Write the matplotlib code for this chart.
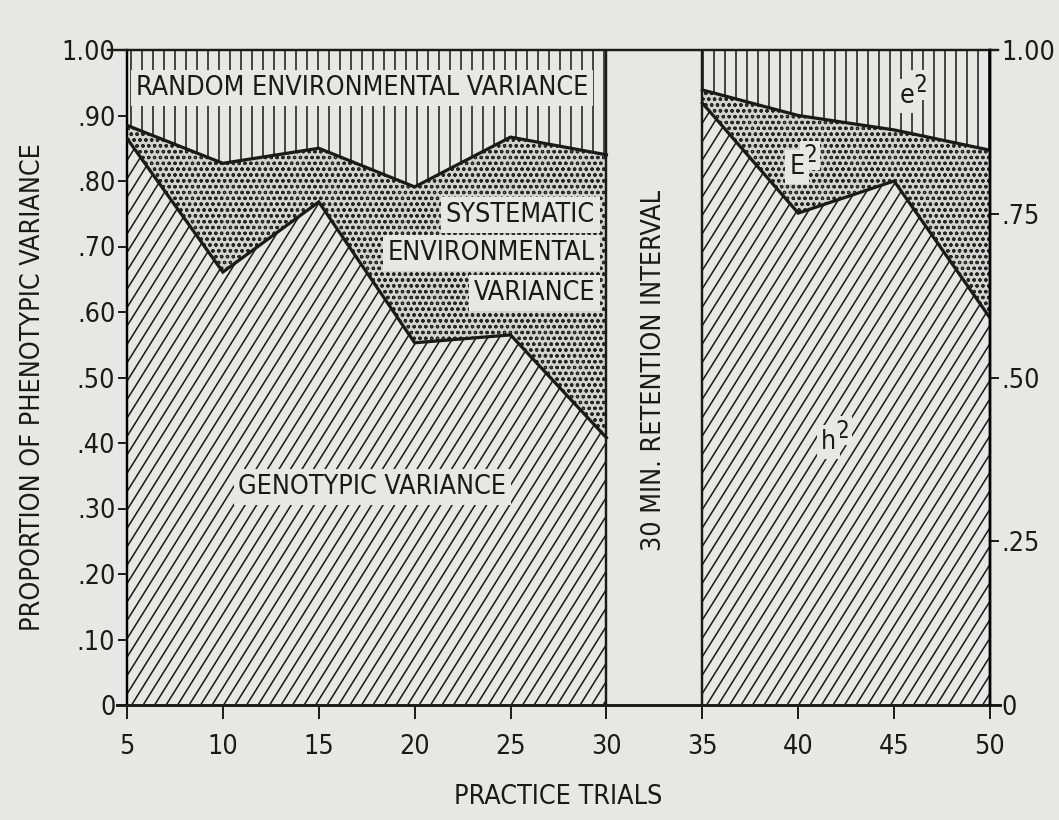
import matplotlib
matplotlib.use('Agg')
import matplotlib.pyplot as plt
from matplotlib.collections import LineCollection
import numpy as np

plt.rcParams['font.family'] = ['DejaVu Sans']
plt.rcParams['font.stretch'] = 'condensed'
plt.rcParams['hatch.linewidth'] = 1.2

# Data
trials_a = [5, 10, 15, 20, 25, 30]
h2_a = [0.865, 0.661, 0.768, 0.553, 0.565, 0.408]
upper_a = [0.885, 0.827, 0.850, 0.791, 0.867, 0.840]

trials_b = [35, 40, 45, 50]
h2_b = [0.919, 0.751, 0.800, 0.591]
upper_b = [0.939, 0.900, 0.878, 0.847]

x_ticks = [5, 10, 15, 20, 25, 30, 35, 40, 45, 50]
left_ticks = [0, .1, .2, .3, .4, .5, .6, .7, .8, .9, 1.0]
left_labels = ['0', '.10', '.20', '.30', '.40', '.50', '.60', '.70', '.80', '.90', '1.00']
right_ticks = [0, .25, .5, .75, 1.0]
right_labels = ['0', '.25', '.50', '.75', '1.00']

bg = '#e7e7e5'
ink = '#1a1a1a'
DPI = 70
W, H = 1059, 820
ax_w, ax_h = 863, 655
fig = plt.figure(figsize=(W / DPI, H / DPI), dpi=DPI, facecolor=bg)
ax = fig.add_axes([127 / W, 1 - 705 / H, ax_w / W, ax_h / H])
ax.set_facecolor(bg)
ax.set_xlim(5, 50)
ax.set_ylim(0, 1)

# hatch line sets (screen-like spacing, in data units)
px_x = ax_w / 45.0
diag_run = 1.0 / (1.6 * px_x / ax_h)      # x distance covered by one diagonal from y=0 to y=1
diag_step = 11.5 / px_x
vert_step = 11.0 / px_x
diag_segs = [[(c, 0), (c + diag_run, 1)] for c in np.arange(5 - diag_run, 50, diag_step)]
vert_segs = [[(c, 0), (c, 1)] for c in np.arange(5.2, 50, vert_step)]


def clipped_lines(poly, segs):
    lc = LineCollection(segs, colors=ink, linewidths=1.6)
    ax.add_collection(lc)
    lc.set_clip_path(poly.get_paths()[0], ax.transData)


for xs, h2, up in [(trials_a, h2_a, upper_a), (trials_b, h2_b, upper_b)]:
    p_gen = ax.fill_between(xs, 0, h2, facecolor=bg, linewidth=0)
    clipped_lines(p_gen, diag_segs)
    p_rand = ax.fill_between(xs, up, 1, facecolor=bg, linewidth=0)
    clipped_lines(p_rand, vert_segs)
    ax.fill_between(xs, h2, up, facecolor='#d2d2d0', edgecolor='#262626', hatch='oo', linewidth=0)
    ax.plot(xs, h2, color=ink, lw=3.3, solid_joinstyle='miter', zorder=4)
    ax.plot(xs, up, color=ink, lw=3.3, solid_joinstyle='miter', zorder=4)

# panel borders
for xv in [30, 35]:
    ax.plot([xv, xv], [0, 1], color=ink, lw=2.5, zorder=4)
ax.plot([4.0, 50.4], [1, 1], color=ink, lw=2.5, clip_on=False, zorder=4)
ax.plot([4.5, 50.5], [0, 0], color=ink, lw=3, clip_on=False, zorder=4)

for s in ['top', 'bottom']:
    ax.spines[s].set_visible(False)
ax.spines['left'].set_linewidth(2.5)
ax.spines['right'].set_linewidth(2.5)

fs = 27.5
ax.set_xticks(x_ticks)
ax.set_xticklabels([str(t) for t in x_ticks], fontsize=fs)
ax.set_yticks(left_ticks)
ax.set_yticklabels(left_labels, fontsize=fs)
ax.tick_params(axis='x', direction='out', length=14, width=2, pad=16, colors=ink)
ax.tick_params(axis='y', direction='out', length=9, width=2, pad=3, colors=ink)

ax2 = ax.twinx()
ax2.set_ylim(0, 1)
for s in ['top', 'bottom', 'left']:
    ax2.spines[s].set_visible(False)
ax2.spines['right'].set_linewidth(2.5)
ax2.set_yticks(right_ticks)
ax2.set_yticklabels(right_labels, fontsize=fs)
ax2.tick_params(axis='y', direction='out', length=9, width=2, pad=3, colors=ink)

ax.set_ylabel('PROPORTION OF PHENOTYPIC VARIANCE', fontsize=fs, color=ink)
ax.yaxis.set_label_coords(-0.094, 0.485)
ax.set_xlabel('PRACTICE TRIALS', fontsize=fs, labelpad=24, color=ink)

box = dict(facecolor=bg, edgecolor='none', pad=5)
kw = dict(fontsize=fs, va='center', color=ink, bbox=box, zorder=5)
ax.text(17.25, 0.942, 'RANDOM ENVIRONMENTAL VARIANCE', ha='center', **kw)
ax.text(29.4, 0.748, 'SYSTEMATIC', ha='right', **kw)
ax.text(29.4, 0.690, 'ENVIRONMENTAL', ha='right', **kw)
ax.text(29.4, 0.629, 'VARIANCE', ha='right', **kw)
ax.text(17.8, 0.333, 'GENOTYPIC VARIANCE', ha='center', **kw)
ax.text(32.5, 0.51, '30 MIN. RETENTION INTERVAL', fontsize=fs, rotation=90,
        ha='center', va='center', color=ink)

# symbols with raised "2"
for base, bx, by in [('e', 45.67, 0.930), ('E', 39.94, 0.822), ('h', 41.60, 0.402)]:
    ax.text(bx + 0.68, by + 0.017, '2', ha='center', fontsize=fs * 0.9, va='center',
            color=ink, bbox=dict(facecolor=bg, edgecolor='none', pad=3), zorder=5)
    ax.text(bx, by, base, ha='center', fontsize=fs, va='center', color=ink,
            bbox=dict(facecolor=bg, edgecolor='none', pad=4), zorder=5)

fig.savefig('out.png', dpi=DPI, facecolor=bg)
